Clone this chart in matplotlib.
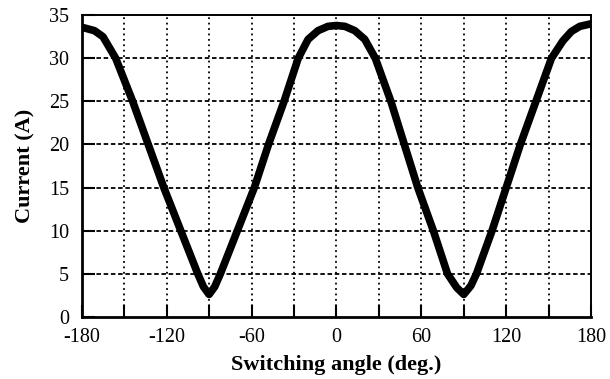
import numpy as np
import matplotlib.pyplot as plt

# switching angle (deg) and current (A)
angle = [-180, -171, -165, -156, -144, -133, -122, -110, -98, -94, -90,
         -86, -82, -70, -58, -48, -37, -27, -20, -13, -6, 0,
         6, 13, 20, 27.5, 38.5, 48, 57.5, 68.5, 78.5, 85, 90,
         95, 99, 110, 120, 130, 141, 152, 160, 166, 172, 180]
current = [33.6, 33.2, 32.5, 30.0, 25.0, 20.0, 15.0, 10.0, 5.0, 3.5, 2.6,
           3.5, 5.0, 10.0, 15.0, 20.0, 25.0, 30.0, 32.2, 33.2, 33.7, 33.8,
           33.7, 33.2, 32.2, 30.0, 25.0, 20.0, 15.0, 10.0, 5.0, 3.4, 2.6,
           3.6, 5.0, 10.0, 15.0, 20.0, 25.0, 30.0, 32.0, 33.1, 33.7, 34.0]

xticks = [-180, -120, -60, 0, 60, 120, 180]
yticks = [0, 5, 10, 15, 20, 25, 30, 35]

plt.rcParams['font.family'] = ['Liberation Serif', 'DejaVu Serif']
plt.rcParams['axes.unicode_minus'] = False

fig = plt.figure(figsize=(6.1, 3.79), dpi=100)
ax = fig.add_axes([0.134, 0.164, 0.835, 0.796])

ax.plot(angle, current, color='black', lw=5.5, solid_capstyle='round', solid_joinstyle='round', zorder=3)

ax.set_xlim(-180, 180)
ax.set_ylim(0, 35)
ax.set_xticks(xticks)
ax.set_xticks(np.arange(-150, 180, 60), minor=True)
ax.set_yticks(yticks)

# grid: dotted verticals every 30 deg, short dashes every 5 A
for x in np.arange(-150, 180, 30):
    ax.axvline(x, color='black', lw=1.3, ls=(0, (1, 2)), zorder=1)
for y in np.arange(5, 35, 5):
    ax.axhline(y, color='black', lw=1.3, ls=(0, (2.5, 1.5)), zorder=1)

ax.tick_params(which='both', direction='in', length=9, width=1.5, labelsize=14.5)
ax.tick_params(axis='x', pad=8)
ax.tick_params(axis='y', pad=9)
for s in ax.spines.values():
    s.set_linewidth(1.4)
ax.spines['left'].set_linewidth(2)
ax.spines['bottom'].set_linewidth(2)

ax.set_xlabel('Switching angle (deg.)', fontsize=16, fontweight='bold', labelpad=6)
ax.set_ylabel('Current (A)', fontsize=16, fontweight='bold', labelpad=10)

fig.savefig('out.png', dpi=100)
